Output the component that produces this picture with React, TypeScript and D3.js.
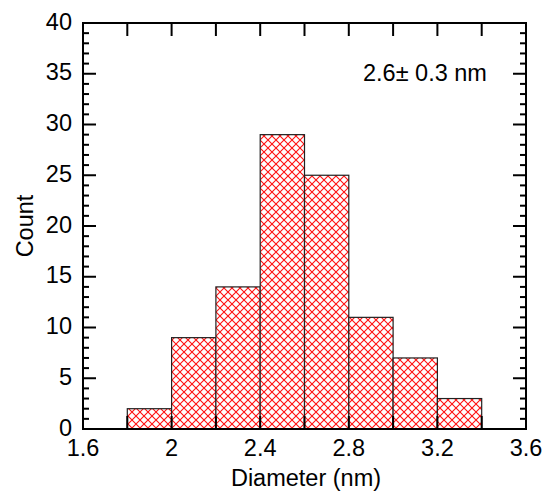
import React, { useEffect, useRef } from 'react';
import * as d3 from 'd3';

// Histogram bins (left edge, count)
const binStarts = [1.8, 2.0, 2.2, 2.4, 2.6, 2.8, 3.0, 3.2];
const counts = [2, 9, 14, 29, 25, 11, 7, 3];
const binWidth = 0.2;
const xTickLabels = [1.6, 2, 2.4, 2.8, 3.2, 3.6];
const yTickLabels = [0, 5, 10, 15, 20, 25, 30, 35, 40];
const annotation = '2.6\u00b1 0.3 nm';

const App = () => {
  const svgRef = useRef<SVGSVGElement>(null);

  useEffect(() => {
    const width = 554;
    const height = 497;
    const margin = { top: 23, right: 28, bottom: 68, left: 83 };
    const font = 'Liberation Sans, Arial, sans-serif';
    const fs = 23.5;

    const svg = d3.select(svgRef.current);
    svg.selectAll('*').remove();
    svg.attr('width', width).attr('height', height);

    const x = d3.scaleLinear().domain([1.6, 3.6]).range([margin.left, width - margin.right]);
    const y = d3.scaleLinear().domain([0, 40]).range([height - margin.bottom, margin.top]);

    // Crosshatch pattern
    const pat = svg
      .append('defs')
      .append('pattern')
      .attr('id', 'xhatch')
      .attr('patternUnits', 'userSpaceOnUse')
      .attr('width', 8)
      .attr('height', 8);
    pat.append('rect').attr('width', 8).attr('height', 8).attr('fill', '#fff');
    pat
      .append('path')
      .attr('d', 'M0,0L8,8M0,8L8,0')
      .attr('stroke', '#ff1010')
      .attr('stroke-width', 1.1);

    // Bars
    svg
      .selectAll('.bar')
      .data(binStarts)
      .enter()
      .append('rect')
      .attr('class', 'bar')
      .attr('x', (d) => x(d))
      .attr('y', (d, i) => y(counts[i]))
      .attr('width', (d) => x(d + binWidth) - x(d))
      .attr('height', (d, i) => y(0) - y(counts[i]))
      .attr('fill', 'url(#xhatch)')
      .attr('stroke', '#222')
      .attr('stroke-width', 1.2);

    const x0 = margin.left;
    const x1 = width - margin.right;
    const y0 = height - margin.bottom;
    const y1 = margin.top;

    // Ticks
    const xTicks = d3.range(1.6, 3.61, 0.2);
    const tickG = svg.append('g').attr('stroke', '#000').attr('stroke-width', 2);
    xTicks.forEach((t) => {
      tickG.append('line').attr('x1', x(t)).attr('x2', x(t)).attr('y1', y0).attr('y2', y0 - 13);
      tickG.append('line').attr('x1', x(t)).attr('x2', x(t)).attr('y1', y1).attr('y2', y1 + 13);
    });
    d3.range(0, 41, 1).forEach((t) => {
      const len = t % 5 === 0 ? 13 : 6;
      tickG.append('line').attr('x1', x0).attr('x2', x0 + len).attr('y1', y(t)).attr('y2', y(t));
      tickG.append('line').attr('x1', x1).attr('x2', x1 - len).attr('y1', y(t)).attr('y2', y(t));
    });

    // Frame
    svg
      .append('rect')
      .attr('x', x0)
      .attr('y', y1)
      .attr('width', x1 - x0)
      .attr('height', y0 - y1)
      .attr('fill', 'none')
      .attr('stroke', '#000')
      .attr('stroke-width', 2);

    // Tick labels
    svg
      .selectAll('.xl')
      .data(xTickLabels)
      .enter()
      .append('text')
      .attr('x', (d) => x(d))
      .attr('y', y0 + 27)
      .attr('text-anchor', 'middle')
      .attr('font-family', font)
      .attr('font-size', fs)
      .text((d) => String(d));

    svg
      .selectAll('.yl')
      .data(yTickLabels)
      .enter()
      .append('text')
      .attr('x', x0 - 11)
      .attr('y', (d) => y(d) + 6.5)
      .attr('text-anchor', 'end')
      .attr('font-family', font)
      .attr('font-size', fs)
      .text((d) => String(d));

    // Axis titles
    svg
      .append('text')
      .attr('x', 306)
      .attr('y', 486)
      .attr('text-anchor', 'middle')
      .attr('font-family', font)
      .attr('font-size', fs)
      .text('Diameter (nm)');

    svg
      .append('text')
      .attr('transform', `translate(33,${(y0 + y1) / 2}) rotate(-90)`)
      .attr('text-anchor', 'middle')
      .attr('font-family', font)
      .attr('font-size', fs)
      .text('Count');

    svg
      .append('text')
      .attr('x', 363)
      .attr('y', 81)
      .attr('font-family', font)
      .attr('font-size', fs)
      .text(annotation);
  }, []);

  return <svg ref={svgRef} style={{ position: 'absolute', left: 0, top: 0 }}></svg>;
};

export default App;
